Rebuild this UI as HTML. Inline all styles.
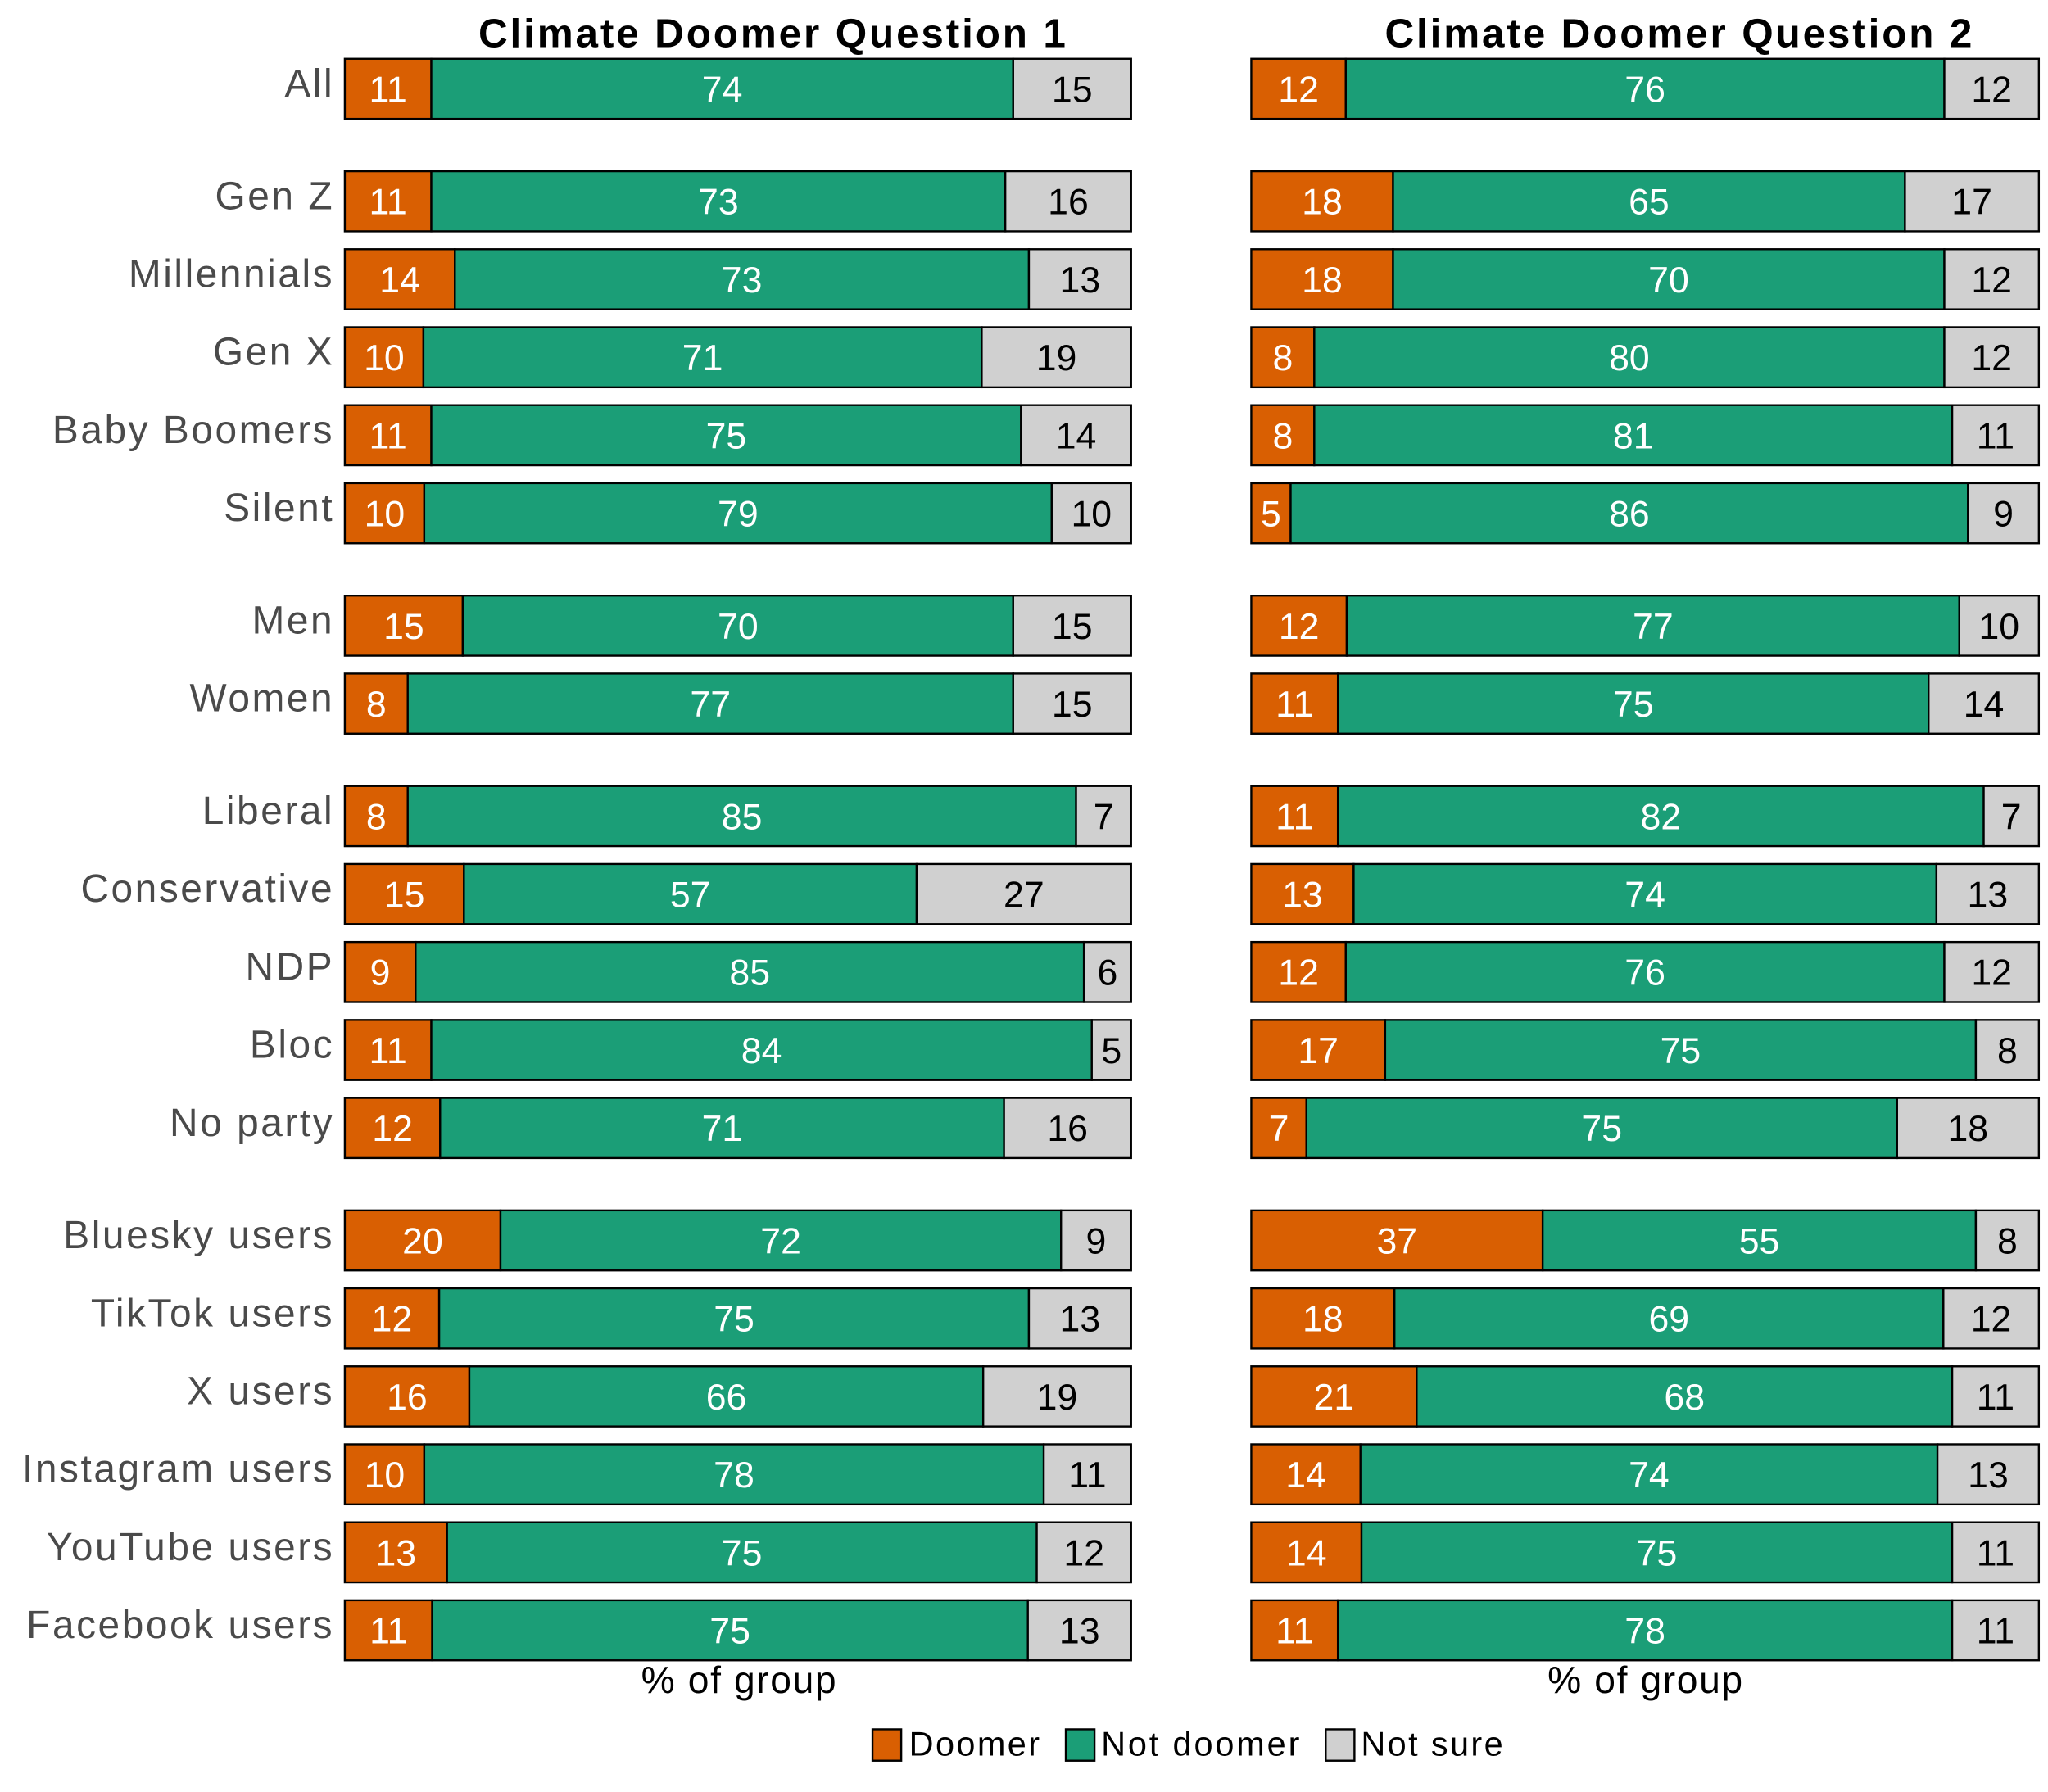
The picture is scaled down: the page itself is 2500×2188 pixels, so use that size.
<!DOCTYPE html>
<html><head><meta charset="utf-8"><style>
html,body{margin:0;padding:0;background:#fff;}
svg{display:block;font-family:"Liberation Sans",sans-serif;}
</style></head><body>
<svg id="chart" width="2500" height="2188" viewBox="0 0 1568 1372" preserveAspectRatio="none" xmlns="http://www.w3.org/2000/svg">
<text x="592" y="36" text-anchor="middle" font-size="31" font-weight="bold" letter-spacing="1.8" fill="#000">Climate Doomer Question 1</text>
<text x="1286" y="36" text-anchor="middle" font-size="31" font-weight="bold" letter-spacing="1.8" fill="#000">Climate Doomer Question 2</text>
<text x="566" y="1296" text-anchor="middle" font-size="29" letter-spacing="1" fill="#000">% of group</text>
<text x="1260" y="1296" text-anchor="middle" font-size="29" letter-spacing="1" fill="#000">% of group</text>
<g>
<rect x="668" y="1324" width="22" height="24" fill="#d95f02" stroke="#000" stroke-width="1.5"/>
<text x="696" y="1344" font-size="26" letter-spacing="1.5">Doomer</text>
<rect x="816" y="1324" width="22" height="24" fill="#1b9e77" stroke="#000" stroke-width="1.5"/>
<text x="843" y="1344" font-size="26" letter-spacing="1.8">Not doomer</text>
<rect x="1015" y="1324" width="22" height="24" fill="#d0d0d0" stroke="#000" stroke-width="1.5"/>
<text x="1042" y="1344" font-size="26" letter-spacing="1.5">Not sure</text>
</g>
<g id="bars"></g>
</svg>
<script>
const categories = ["All","Gen Z","Millennials","Gen X","Baby Boomers","Silent","Men","Women","Liberal","Conservative","NDP","Bloc","No party","Bluesky users","TikTok users","X users","Instagram users","YouTube users","Facebook users"];
const groups = [0,1,1,1,1,1,2,2,3,3,3,3,3,4,4,4,4,4,4];
const q1Doomer = [11,11,14,10,11,10,15,8,8,15,9,11,12,20,12,16,10,13,11];
const q1Not = [74,73,73,71,75,79,70,77,85,57,85,84,71,72,75,66,78,75,75];
const q1Sure = [15,16,13,19,14,10,15,15,7,27,6,5,16,9,13,19,11,12,13];
const q2Doomer = [12,18,18,8,8,5,12,11,11,13,12,17,7,37,18,21,14,14,11];
const q2Not = [76,65,70,80,81,86,77,75,82,74,76,75,75,55,69,68,74,75,78];
const q2Sure = [12,17,12,12,11,9,10,14,7,13,12,8,18,8,12,11,13,11,11];

const NS="http://www.w3.org/2000/svg";
const g=document.getElementById('bars');
const rowStep=59.7, groupGap=26.4, firstCenter=68, barH=46;
function yCenter(i){return firstCenter+i*rowStep+groups[i]*groupGap;}
const panels=[{x0:264,x1:866,d:q1Doomer,n:q1Not,s:q1Sure,k:'q1'},{x0:958,x1:1561,d:q2Doomer,n:q2Not,s:q2Sure,k:'q2'}];
const colors=['#d95f02','#1b9e77','#d0d0d0'];
const txt=['#fff','#fff','#000'];
const segNames=['doomer','not-doomer','not-sure'];
function mk(tag,attrs){const e=document.createElementNS(NS,tag);for(const k in attrs)e.setAttribute(k,attrs[k]);return e;}
categories.forEach((c,i)=>{
  const yc=yCenter(i);
  const lab=mk('text',{x:256,y:yc+6,'text-anchor':'end','font-size':30,'letter-spacing':1.6,fill:'#4a4a4a'});
  
  
  lab.textContent=c;g.appendChild(lab);
  panels.forEach(p=>{
    const vals=[p.d[i],p.n[i],p.s[i]];
    const tot=vals[0]+vals[1]+vals[2];
    const sc=v=>(p.x1-p.x0)*v/tot;
    let x=p.x0;
    vals.forEach((v,j)=>{
      const w=sc(v);
      const r=mk('rect',{x:x,y:yc-barH/2,width:w,height:barH,fill:colors[j],stroke:'#000','stroke-width':1.5});
      
      
      g.appendChild(r);
      const t=mk('text',{x:x+w/2,y:yc+10,'text-anchor':'middle','font-size':28,fill:txt[j]});
      
      
      t.textContent=v;g.appendChild(t);
      x+=w;
    });
  });
});
</script>
</body></html>
